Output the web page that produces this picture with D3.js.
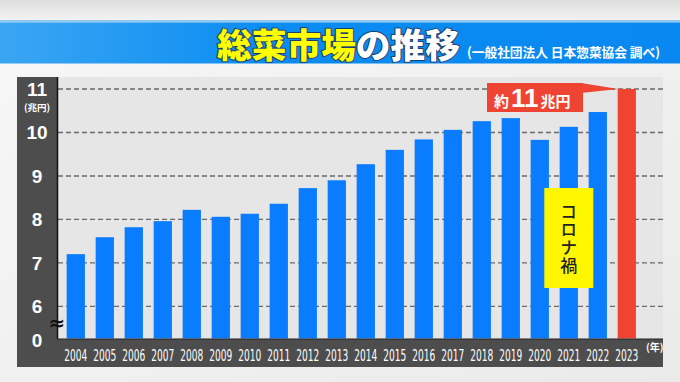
<!DOCTYPE html>
<html>
<head>
<meta charset="utf-8">
<script src="https://cdn.jsdelivr.net/npm/d3@7"></script>
<style>
  html, body { margin: 0; padding: 0; background: #eeeeee; }
  svg { display: block; }
</style>
</head>
<body>
<script>
// ---- data ----
const years = ["2004","2005","2006","2007","2008","2009","2010","2011","2012","2013",
               "2014","2015","2016","2017","2018","2019","2020","2021","2022","2023"];
const marketValues = [7.20, 7.59, 7.82, 7.96, 8.22, 8.06, 8.13, 8.36, 8.72, 8.90,
                      9.27, 9.60, 9.84, 10.06, 10.26, 10.33, 9.83, 10.13, 10.47, 11.0];
const yTicks = [6, 7, 8, 9, 10, 11];
const baselineLabel = "0";
const yUnit = "(兆円)";
const xUnit = "(年)";
const titleMain = "総菜市場";
const titleRest = "の推移";
const subtitle = "(一般社団法人 日本惣菜協会 調べ)";
const calloutParts = ["約", "11", "兆円"];
const covidLabel = "コロナ禍";
const covidCenterYear = "2021";
const highlightYear = "2023";

const W = 680, H = 382;
const svg = d3.select("body").append("svg").attr("width", W).attr("height", H);
const defs = svg.append("defs");

// background
const bg = defs.append("linearGradient").attr("id", "bg").attr("x1", 0).attr("y1", 0).attr("x2", 1).attr("y2", 1);
bg.append("stop").attr("offset", 0).attr("stop-color", "#f7f7f7");
bg.append("stop").attr("offset", 1).attr("stop-color", "#eaeaea");
svg.append("rect").attr("width", W).attr("height", H).attr("fill", "url(#bg)");
const topG = defs.append("linearGradient").attr("id", "topg").attr("x1", 0).attr("y1", 0).attr("x2", 0).attr("y2", 1);
topG.append("stop").attr("offset", 0).attr("stop-color", "#dedede");
topG.append("stop").attr("offset", 1).attr("stop-color", "#f2f2f2");
svg.append("rect").attr("x", 0).attr("y", 0).attr("width", W).attr("height", 20).attr("fill", "url(#topg)");

// title band
const tb = defs.append("linearGradient").attr("id", "tb").attr("x1", 0).attr("y1", 0).attr("x2", 1).attr("y2", 0);
tb.append("stop").attr("offset", 0).attr("stop-color", "#3aa6f2");
tb.append("stop").attr("offset", 0.4).attr("stop-color", "#0a8cf2");
tb.append("stop").attr("offset", 1).attr("stop-color", "#0888f0");
svg.append("rect").attr("x", 0).attr("y", 20).attr("width", W).attr("height", 2.5).attr("fill", "#8cc8f0");
svg.append("rect").attr("x", 0).attr("y", 22.5).attr("width", W).attr("height", 41).attr("fill", "url(#tb)");

const title = svg.append("text")
  .attr("x", 217).attr("y", 58)
  .attr("textLength", 243).attr("lengthAdjust", "spacingAndGlyphs")
  .attr("font-family", "'Noto Sans CJK JP', sans-serif")
  .attr("font-weight", 900).attr("font-size", 34)
  .attr("stroke", "#1d3f6e").attr("stroke-width", 2).attr("paint-order", "stroke")
  .attr("stroke-linejoin", "round");
title.append("tspan").attr("fill", "#ffff00").text(titleMain);
title.append("tspan").attr("fill", "#ffffff").text(titleRest);

svg.append("text")
  .attr("x", 467).attr("y", 57)
  .attr("textLength", 193).attr("lengthAdjust", "spacingAndGlyphs")
  .attr("font-family", "'Noto Sans CJK JP', sans-serif")
  .attr("font-weight", 700).attr("font-size", 13)
  .attr("fill", "#ffffff").text(subtitle);

// panel
const panel = { left: 17, top: 77, right: 663, bottom: 367 };
const plot = { left: 58, top: 77, right: 663, bottom: 339 };
svg.append("rect").attr("x", panel.left).attr("y", panel.top)
  .attr("width", plot.left - panel.left).attr("height", panel.bottom - panel.top).attr("fill", "#4d4d4d");
svg.append("rect").attr("x", panel.left).attr("y", plot.bottom)
  .attr("width", panel.right - panel.left).attr("height", panel.bottom - plot.bottom).attr("fill", "#4d4d4d");
svg.append("rect").attr("x", plot.left).attr("y", plot.top)
  .attr("width", plot.right - plot.left).attr("height", plot.bottom - plot.top).attr("fill", "#e6e6e6");

// scales
const y = d3.scaleLinear().domain([5.26, 11]).range([338.5, 89]);
const x = d3.scaleBand().domain(years).range([61.3, 641.3]).paddingInner(0.37).paddingOuter(0.185);

// gridlines
svg.append("g").selectAll("line").data(yTicks).join("line")
  .attr("x1", plot.left).attr("x2", plot.right)
  .attr("y1", d => y(d)).attr("y2", d => y(d))
  .attr("stroke", "#6a6a6a").attr("stroke-width", 1.4).attr("stroke-dasharray", "5,3");

// bars
svg.append("g").selectAll("rect").data(years).join("rect")
  .attr("x", d => x(d)).attr("width", x.bandwidth())
  .attr("y", (d, i) => y(marketValues[i]))
  .attr("height", (d, i) => y.range()[0] - y(marketValues[i]))
  .attr("fill", d => d === highlightYear ? "#f04433" : "#0a7cff");

// axis lines
svg.append("line").attr("x1", plot.left - 0.5).attr("x2", plot.left - 0.5)
  .attr("y1", plot.top).attr("y2", plot.bottom).attr("stroke", "#111").attr("stroke-width", 1.5);
svg.append("line").attr("x1", plot.left - 1).attr("x2", plot.right)
  .attr("y1", plot.bottom).attr("y2", plot.bottom).attr("stroke", "#222").attr("stroke-width", 1.2);

// y tick labels
svg.append("g").selectAll("text").data(yTicks).join("text")
  .attr("x", 37).attr("y", d => y(d)).attr("dy", "0.36em")
  .attr("text-anchor", "middle")
  .attr("font-family", "Arial, 'Liberation Sans', sans-serif").attr("font-weight", 700)
  .attr("font-size", 19).attr("fill", "#ffffff")
  .text(d => d);
svg.append("text").attr("x", 37).attr("y", 340).attr("dy", "0.36em")
  .attr("text-anchor", "middle")
  .attr("font-family", "Arial, 'Liberation Sans', sans-serif").attr("font-weight", 700)
  .attr("font-size", 19).attr("fill", "#ffffff").text(baselineLabel);
svg.append("text").attr("x", 37).attr("y", 111)
  .attr("text-anchor", "middle")
  .attr("font-family", "'Noto Sans CJK JP', sans-serif").attr("font-weight", 700)
  .attr("font-size", 9.5).attr("fill", "#ffffff").text(yUnit);
svg.append("text").attr("x", 57).attr("y", 323).attr("dy", "0.35em")
  .attr("text-anchor", "middle")
  .attr("font-family", "'DejaVu Sans', sans-serif").attr("font-weight", 700)
  .attr("font-size", 20).attr("fill", "#111").text("≈");

// x labels (condensed: narrow width, stretched vertically)
svg.append("g").selectAll("text").data(years).join("text")
  .attr("transform", d => `translate(${x(d) + x.bandwidth() / 2},360.5) scale(1,1.18)`)
  .attr("x", -11.5).attr("y", 0)
  .attr("textLength", 23).attr("lengthAdjust", "spacingAndGlyphs")
  .attr("font-family", "'DejaVu Sans Condensed', 'Liberation Sans Narrow', Arial, sans-serif")
  .attr("font-size", 13.5).attr("fill", "#ffffff")
  .text(d => d);
svg.append("text").attr("x", 646).attr("y", 351)
  .attr("font-family", "'Noto Sans CJK JP', sans-serif").attr("font-weight", 700)
  .attr("font-size", 10).attr("fill", "#ffffff").text(xUnit);

// callout for 2023
const hx = x(highlightYear), hy = y(marketValues[years.indexOf(highlightYear)]);
const box = { x0: 487, y0: 83, x1: 583, y1: 112 };
svg.append("polygon")
  .attr("points", [[box.x1 - 2, box.y0], [hx + 0.5, hy], [box.x1 - 2, box.y0 + 10]].map(p => p.join(",")).join(" "))
  .attr("fill", "#f04433");
svg.append("rect").attr("x", box.x0).attr("y", box.y0)
  .attr("width", box.x1 - box.x0).attr("height", box.y1 - box.y0).attr("fill", "#f04433");
const ct = svg.append("text").attr("x", 494).attr("y", 106.5)
  .attr("font-family", "'Noto Sans CJK JP', sans-serif").attr("font-weight", 700).attr("fill", "#ffffff");
ct.append("tspan").attr("font-size", 15).text(calloutParts[0]);
ct.append("tspan").attr("font-size", 26).attr("font-weight", 900).attr("dx", 2)
  .attr("font-family", "Arial, 'Liberation Sans', sans-serif").text(calloutParts[1]);
ct.append("tspan").attr("font-size", 15).attr("dx", 2).text(calloutParts[2]);

// covid box (centred on 2021)
const ccx = x(covidCenterYear) + x.bandwidth() / 2;
const cw = x.step() * 1.69;
svg.append("rect").attr("x", ccx - cw / 2).attr("y", 188).attr("width", cw).attr("height", 100).attr("fill", "#fff700");
svg.append("text")
  .attr("x", ccx).attr("y", 203)
  .attr("style", "writing-mode: vertical-rl; text-orientation: upright;")
  .attr("font-family", "'Noto Sans CJK JP', sans-serif").attr("font-weight", 500)
  .attr("font-size", 17).attr("letter-spacing", 1).attr("fill", "#222")
  .text(covidLabel);
</script>
</body>
</html>
